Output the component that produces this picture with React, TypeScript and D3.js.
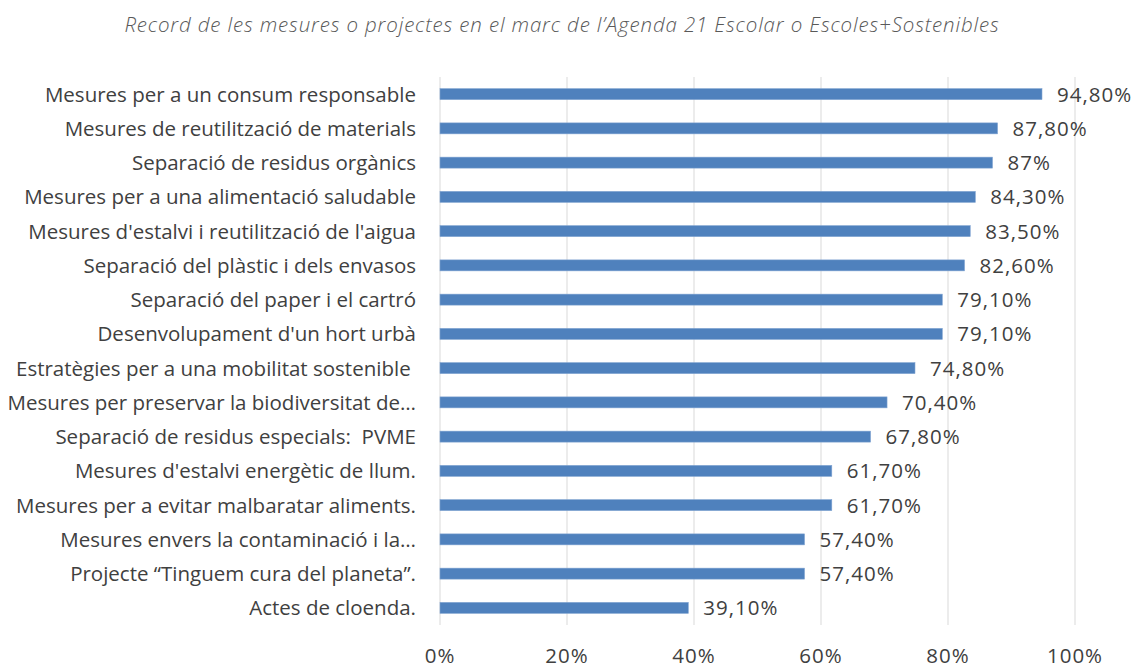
import React, { useEffect, useRef } from 'react'
import * as d3 from 'd3'

const title = 'Record de les mesures o projectes en el marc de l’Agenda 21 Escolar o Escoles+Sostenibles'

const categories = [
  'Mesures per a un consum responsable',
  'Mesures de reutilització de materials',
  'Separació de residus orgànics',
  'Mesures per a una alimentació saludable',
  "Mesures d'estalvi i reutilització de l'aigua",
  'Separació del plàstic i dels envasos',
  'Separació del paper i el cartró',
  "Desenvolupament d'un hort urbà",
  'Estratègies per a una mobilitat sostenible ',
  'Mesures per preservar la biodiversitat de…',
  'Separació de residus especials:  PVME',
  "Mesures d'estalvi energètic de llum.",
  'Mesures per a evitar malbaratar aliments.',
  'Mesures envers la contaminació i la…',
  'Projecte “Tinguem cura del planeta”.',
  'Actes de cloenda.',
]

const values = [94.8, 87.8, 87, 84.3, 83.5, 82.6, 79.1, 79.1, 74.8, 70.4, 67.8, 61.7, 61.7, 57.4, 57.4, 39.1]

const valueLabels = ['94,80%', '87,80%', '87%', '84,30%', '83,50%', '82,60%', '79,10%', '79,10%', '74,80%', '70,40%', '67,80%', '61,70%', '61,70%', '57,40%', '57,40%', '39,10%']

const ticks = [0, 20, 40, 60, 80, 100]
const tickLabels = ['0%', '20%', '40%', '60%', '80%', '100%']

export default function App() {
  const ref = useRef<SVGSVGElement>(null)

  useEffect(() => {
    document.body.style.margin = '0'
    const svg = d3.select(ref.current)
    svg.selectAll('*').remove()

    const width = 1134
    const height = 664
    const plot = { left: 440, right: 1075, top: 77, bottom: 625 }
    const font = '"Open Sans", Calibri, sans-serif'
    const textColor = '#404040'
    const fs = 20.5

    const x = d3.scaleLinear().domain([0, 100]).range([plot.left, plot.right])
    const y = d3.scaleBand<string>()
      .domain(categories)
      .range([plot.top, plot.bottom])
      .paddingInner(0.68)
      .paddingOuter(0.34)

    svg.attr('width', width).attr('height', height)

    svg.append('rect').attr('width', width).attr('height', height).attr('fill', '#fff')

    // title
    svg.append('text')
      .attr('x', 562)
      .attr('y', 32)
      .attr('text-anchor', 'middle')
      .attr('font-family', font)
      .attr('font-style', 'italic')
      .attr('font-weight', 300)
      .attr('font-size', 20.5)
      .attr('letter-spacing', 0.85)
      .attr('fill', '#595959')
      .text(title)

    // vertical gridlines
    svg.append('g')
      .selectAll('line')
      .data(ticks)
      .join('line')
      .attr('x1', d => x(d))
      .attr('x2', d => x(d))
      .attr('y1', plot.top)
      .attr('y2', plot.bottom)
      .attr('stroke', '#d9d9d9')
      .attr('stroke-width', 1)

    // bars
    svg.append('g')
      .selectAll('rect')
      .data(values)
      .join('rect')
      .attr('x', x(0))
      .attr('y', (d, i) => y(categories[i])!)
      .attr('width', d => x(d) - x(0))
      .attr('height', y.bandwidth())
      .attr('fill', '#4f81bd')
      .attr('stroke', '#7fa3d1')
      .attr('stroke-width', 0.6)

    // value labels
    svg.append('g')
      .selectAll('text')
      .data(values)
      .join('text')
      .attr('x', d => x(d) + 15)
      .attr('y', (d, i) => y(categories[i])! + y.bandwidth() / 2)
      .attr('dy', '0.36em')
      .attr('font-family', font)
      .attr('font-size', fs)
      .attr('letter-spacing', 1)
      .attr('fill', textColor)
      .text((d, i) => valueLabels[i])

    // category labels
    svg.append('g')
      .selectAll('text')
      .data(categories)
      .join('text')
      .attr('x', 416)
      .attr('y', d => y(d)! + y.bandwidth() / 2)
      .attr('dy', '0.36em')
      .attr('text-anchor', 'end')
      .attr('font-family', font)
      .attr('font-size', fs)
      .attr('fill', textColor)
      .style('white-space', 'pre')
      .text(d => d)

    // x axis tick labels, sitting at the bottom edge as in the source
    svg.append('g')
      .selectAll('text')
      .data(ticks)
      .join('text')
      .attr('x', d => x(d))
      .attr('y', 663)
      .attr('text-anchor', 'middle')
      .attr('font-family', font)
      .attr('font-size', fs)
      .attr('letter-spacing', 1)
      .attr('fill', textColor)
      .text((d, i) => tickLabels[i])
  }, [])

  return <svg ref={ref} style={{ display: 'block' }} />
}
